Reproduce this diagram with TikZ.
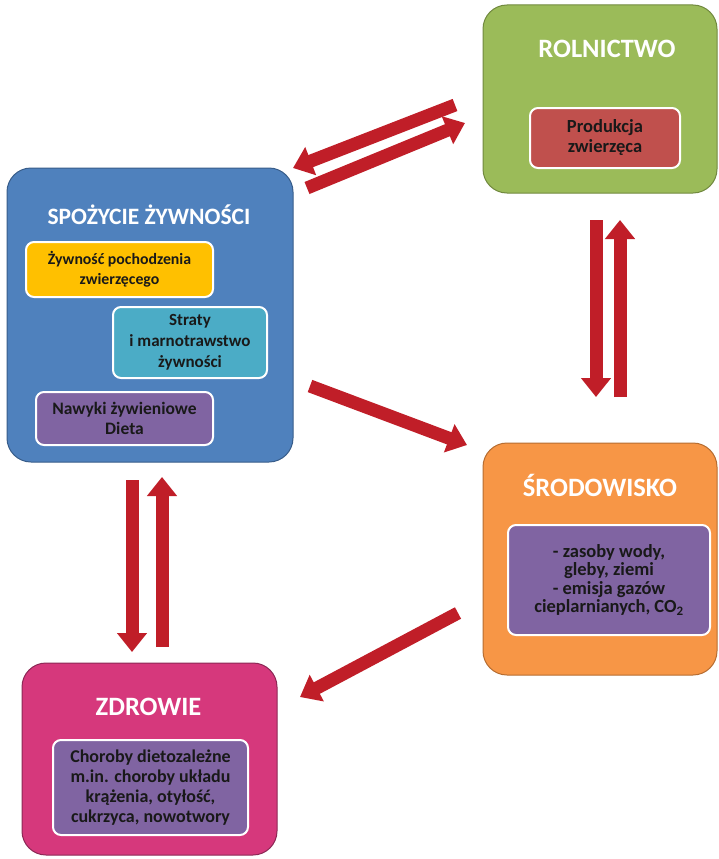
\documentclass[tikz,border=0pt]{standalone}
\usepackage{fontspec}
\setmainfont{Carlito}
\usetikzlibrary{arrows.meta}
\definecolor{agrgreen}{RGB}{155,187,89}
\definecolor{agrgreenD}{RGB}{113,137,63}
\definecolor{foodblue}{RGB}{79,129,189}
\definecolor{foodblueD}{RGB}{56,93,138}
\definecolor{envorange}{RGB}{247,150,70}
\definecolor{envorangeD}{RGB}{182,109,49}
\definecolor{healthpink}{RGB}{214,56,124}
\definecolor{healthpinkD}{RGB}{140,40,85}
\definecolor{prodred}{RGB}{192,80,77}
\definecolor{yellowbox}{RGB}{255,192,0}
\definecolor{cyanbox}{RGB}{75,172,198}
\definecolor{purplebox}{RGB}{128,100,162}
\definecolor{arrowred}{RGB}{192,30,40}
\definecolor{darktext}{RGB}{25,25,25}
\begin{document}
\begin{tikzpicture}[x=1pt,y=-1pt,
  outerbox/.style={rectangle, rounded corners=24pt, line width=1pt, inner sep=0pt},
  titletext/.style={text=white, font=\bfseries\fontsize{26.5}{30}\selectfont},
  innerbox/.style={rectangle, draw=white, line width=2pt, rounded corners=8pt, align=center, inner sep=0pt,
     text=darktext, font=\bfseries\fontsize{18}{20}\selectfont},
  bigarrow/.style={draw=arrowred, line width=13pt, -{Triangle[width=29pt,length=19pt]}}]
\useasboundingbox (0,0) rectangle (718,859);
\fill[white] (0,0) rectangle (718,859);

% ROLNICTWO
\node[outerbox, fill=agrgreen, draw=agrgreenD, minimum width=234pt, minimum height=188pt] (rol) at (600,99) {};
\node[titletext] (rolT) at (607,49) {ROLNICTWO};
\node[innerbox, fill=prodred, minimum width=150pt, minimum height=60pt, font=\bfseries\fontsize{18.5}{20}\selectfont] (prod) at (605,138) {Produkcja\\zwierzęca};

% SPOŻYCIE ŻYWNOŚCI
\node[outerbox, fill=foodblue, draw=foodblueD, minimum width=286pt, minimum height=294pt] (spo) at (150,315) {};
\node[titletext, font=\bfseries\fontsize{23.5}{27}\selectfont] (spoT) at (149,215) {SPOŻYCIE ŻYWNOŚCI};
\node[innerbox, fill=yellowbox, minimum width=187pt, minimum height=55pt, font=\bfseries\fontsize{15.8}{20}\selectfont] (zyw) at (119.5,269.5) {Żywność pochodzenia\\zwierzęcego};
\node[innerbox, fill=cyanbox, minimum width=154pt, minimum height=71pt, font=\bfseries\fontsize{17}{21}\selectfont] (str) at (190,342.5) {Straty\\i marnotrawstwo\\żywności};
\node[innerbox, fill=purplebox, minimum width=177pt, minimum height=53pt, font=\bfseries\fontsize{17.5}{20}\selectfont] (naw) at (124.5,418.5) {Nawyki żywieniowe\\Dieta};

% ŚRODOWISKO
\node[outerbox, fill=envorange, draw=envorangeD, minimum width=234pt, minimum height=232pt] (sro) at (600,559) {};
\node[titletext] (sroT) at (600,485) {ŚRODOWISKO};
\node[innerbox, fill=purplebox, minimum width=202pt, minimum height=110pt, font=\bfseries\fontsize{18.5}{18.5}\selectfont] (zas) at (609,580) {- zasoby wody,\\gleby, ziemi\\- emisja gazów\\cieplarnianych, CO\textsubscript{2}};

% ZDROWIE
\node[outerbox, fill=healthpink, draw=healthpinkD, minimum width=255pt, minimum height=192pt] (zdr) at (149.5,759) {};
\node[titletext] (zdrT) at (148.5,707) {ZDROWIE};
\node[innerbox, fill=purplebox, minimum width=195pt, minimum height=95pt] (cho) at (150.5,787.5) {Choroby dietozależne\\m.in. choroby układu\\krążenia, otyłość,\\cukrzyca, nowotwory};

% arrow end points
\coordinate (a1s) at (455,105); \coordinate (a1e) at (293,168);
\coordinate (a2s) at (307,188); \coordinate (a2e) at (465,123);
\coordinate (a3s) at (596,220); \coordinate (a3e) at (596,397);
\coordinate (a4s) at (620,397); \coordinate (a4e) at (620,220);
\coordinate (a5s) at (310,386); \coordinate (a5e) at (467,445);
\coordinate (a6s) at (132,480); \coordinate (a6e) at (132,652);
\coordinate (a7s) at (162,647); \coordinate (a7e) at (162,477);
\coordinate (a8s) at (458,613); \coordinate (a8e) at (300,697);

\draw[bigarrow] (a1s) -- (a1e);
\draw[bigarrow] (a2s) -- (a2e);
\draw[bigarrow] (a3s) -- (a3e);
\draw[bigarrow] (a4s) -- (a4e);
\draw[bigarrow] (a5s) -- (a5e);
\draw[bigarrow] (a6s) -- (a6e);
\draw[bigarrow] (a7s) -- (a7e);
\draw[bigarrow] (a8s) -- (a8e);
\end{tikzpicture}
\end{document}
